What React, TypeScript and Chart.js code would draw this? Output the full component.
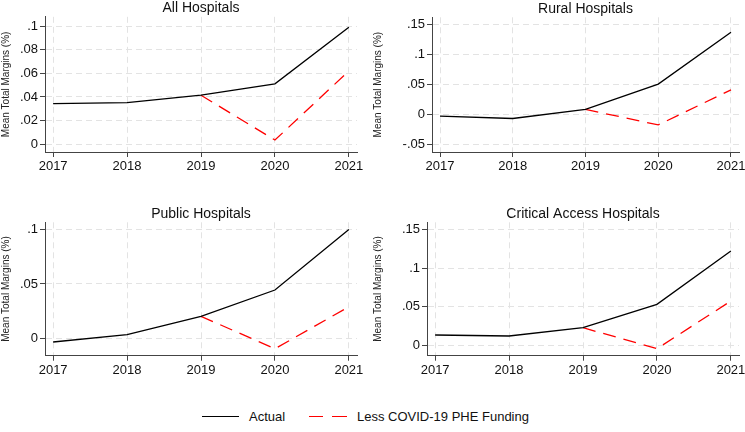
import React, { useEffect, useRef } from 'react';
import { Chart, registerables } from 'chart.js';

Chart.register(...registerables);

const FONT = '"Liberation Sans", Arial, Helvetica, sans-serif';
Chart.defaults.font.family = FONT;

const years = [2017, 2018, 2019, 2020, 2021];

const allActual = [0.0344, 0.0353, 0.0415, 0.0511, 0.099];
const allLess = [null, null, 0.0415, 0.0036, 0.062];
const ruralActual = [-0.003, -0.0068, 0.0084, 0.0506, 0.137];
const ruralLess = [null, null, 0.0084, -0.0175, 0.041];
const publicActual = [-0.0034, 0.0033, 0.0202, 0.0444, 0.1];
const publicLess = [null, null, 0.0202, -0.0096, 0.029];
const critActual = [0.013, 0.0117, 0.0225, 0.0529, 0.1223];
const critLess = [null, null, 0.0225, -0.0048, 0.0572];

const allTicks = [0, 0.02, 0.04, 0.06, 0.08, 0.1];
const ruralTicks = [-0.05, 0, 0.05, 0.1, 0.15];
const publicTicks = [0, 0.05, 0.1];
const critTicks = [0, 0.05, 0.1, 0.15];

const seriesLabels = ['Actual', 'Less COVID-19 PHE Funding'];
const yTitle = 'Mean Total Margins (%)';

function fmt(v: number): string {
  if (Math.abs(v) < 1e-9) return '0';
  let s = String(+v.toFixed(4));
  s = s.replace(/^0\./, '.').replace(/^-0\./, '-.');
  return s;
}

type PanelProps = {
  title: string;
  actual: (number | null)[];
  less: (number | null)[];
  yTicks: number[];
  yMin: number;
  yMax: number;
  yWidth: number;
  left: number;
  top: number;
  width: number;
  height: number;
  pad: { top: number; right: number; bottom: number; left: number };
};

function Panel(p: PanelProps) {
  const ref = useRef<HTMLCanvasElement>(null);
  useEffect(() => {
    if (!ref.current) return;
    const axisColor = '#444';
    const gridColor = '#e3e3e3';
    const chart = new Chart(ref.current, {
      type: 'line',
      data: {
        datasets: [
          {
            label: seriesLabels[0],
            data: years.map((x, i) => ({ x, y: p.actual[i] })),
            borderColor: '#000',
            borderWidth: 1.3,
            pointRadius: 0,
            tension: 0,
            fill: false,
          },
          {
            label: seriesLabels[1],
            data: years.map((x, i) => ({ x, y: p.less[i] })),
            borderColor: '#ff0000',
            borderWidth: 1.3,
            borderDash: [13, 8],
            pointRadius: 0,
            tension: 0,
            fill: false,
          },
        ],
      } as any,
      options: {
        responsive: false,
        maintainAspectRatio: false,
        animation: false,
        layout: { padding: p.pad },
        plugins: {
          legend: { display: false },
          tooltip: { enabled: false },
          title: {
            display: true,
            text: p.title,
            fullSize: false,
            color: '#111',
            font: { size: 14, weight: 'normal', family: FONT },
            padding: { top: 0, bottom: 0 },
          },
        },
        scales: {
          x: {
            type: 'linear',
            min: 2016.89,
            max: 2021.11,
            afterBuildTicks: (s: any) => {
              s.ticks = years.map((v) => ({ value: v }));
            },
            afterFit: (s: any) => {
              s.height = 30;
            },
            ticks: {
              color: '#111',
              font: { size: 13, family: FONT },
              padding: 2,
              maxRotation: 0,
              autoSkip: false,
              callback: (v: any) => String(v),
            },
            grid: {
              color: gridColor,
              lineWidth: 1,
              drawTicks: true,
              tickLength: 5,
              tickColor: axisColor,
              tickWidth: 1,
            },
            border: { display: true, color: axisColor, width: 1, dash: [6, 4] },
          },
          y: {
            type: 'linear',
            min: p.yMin,
            max: p.yMax,
            afterBuildTicks: (s: any) => {
              s.ticks = p.yTicks.map((v) => ({ value: v }));
            },
            afterFit: (s: any) => {
              s.width = p.yWidth;
            },
            ticks: {
              color: '#111',
              font: { size: 13, family: FONT },
              padding: 2,
              autoSkip: false,
              callback: (v: any) => fmt(Number(v)),
            },
            grid: {
              color: gridColor,
              lineWidth: 1,
              drawTicks: true,
              tickLength: 5,
              tickColor: axisColor,
              tickWidth: 1,
            },
            border: { display: true, color: axisColor, width: 1, dash: [6, 4] },
            title: {
              display: true,
              text: yTitle,
              color: '#222',
              font: { size: 10, family: FONT },
              padding: { top: 0, bottom: 0 },
            },
          },
        },
      } as any,
    });
    return () => chart.destroy();
  }, []);
  return (
    <div style={{ position: 'absolute', left: p.left, top: p.top, width: p.width, height: p.height }}>
      <canvas
        ref={ref}
        width={p.width}
        height={p.height}
        style={{ display: 'block', width: p.width, height: p.height }}
      />
    </div>
  );
}

export default function App() {
  const textStyle: React.CSSProperties = {
    position: 'absolute',
    top: 409,
    fontSize: 13,
    lineHeight: '16px',
    color: '#111',
    whiteSpace: 'nowrap',
    fontFamily: FONT,
  };
  return (
    <div
      style={{
        position: 'fixed',
        left: 0,
        top: 0,
        width: 745,
        height: 432,
        overflow: 'hidden',
        background: '#fff',
        fontFamily: FONT,
      }}
    >
      <Panel
        title="All Hospitals"
        actual={allActual}
        less={allLess}
        yTicks={allTicks}
        yMin={-0.0065}
        yMax={0.1078}
        yWidth={45}
        left={0}
        top={0}
        width={372}
        height={190}
        pad={{ top: 0, right: 15, bottom: 8, left: 0 }}
      />
      <Panel
        title="Rural Hospitals"
        actual={ruralActual}
        less={ruralLess}
        yTicks={ruralTicks}
        yMin={-0.0627}
        yMax={0.162}
        yWidth={60}
        left={372}
        top={0}
        width={380}
        height={190}
        pad={{ top: 0.5, right: 13, bottom: 8, left: 0 }}
      />
      <Panel
        title="Public Hospitals"
        actual={publicActual}
        less={publicLess}
        yTicks={publicTicks}
        yMin={-0.016}
        yMax={0.1067}
        yWidth={45}
        left={0}
        top={205}
        width={372}
        height={190}
        pad={{ top: 0.5, right: 15, bottom: 9.3, left: 0 }}
      />
      <Panel
        title="Critical Access Hospitals"
        actual={critActual}
        less={critLess}
        yTicks={critTicks}
        yMin={-0.0139}
        yMax={0.1596}
        yWidth={55}
        left={372}
        top={205}
        width={380}
        height={190}
        pad={{ top: 0.5, right: 13, bottom: 9.3, left: 0 }}
      />
      <div style={{ position: 'absolute', left: 202, top: 416, width: 37, height: 1.4, background: '#000' }} />
      <div style={{ ...textStyle, left: 249 }}>{seriesLabels[0]}</div>
      <div style={{ position: 'absolute', left: 309, top: 416, width: 14, height: 1.4, background: '#ff0000' }} />
      <div style={{ position: 'absolute', left: 332, top: 416, width: 15, height: 1.4, background: '#ff0000' }} />
      <div style={{ ...textStyle, left: 357 }}>{seriesLabels[1]}</div>
    </div>
  );
}
